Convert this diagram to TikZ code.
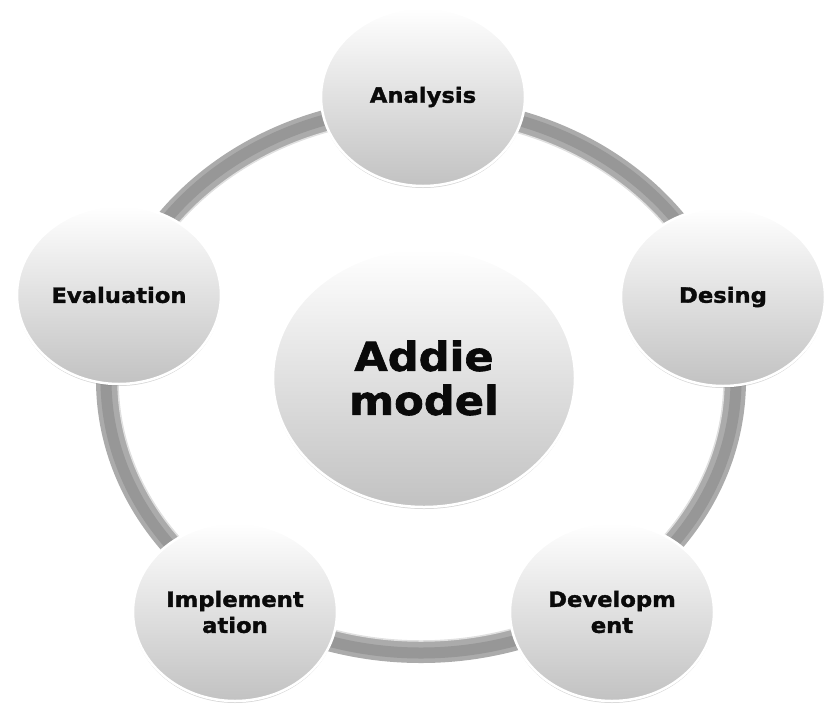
\documentclass[tikz,border=0pt]{standalone}
\usepackage{fontspec}
\setmainfont{DejaVu Sans}[FakeStretch=1.08,BoldFeatures={FakeBold=1.6}]
\usetikzlibrary{shapes.geometric,shadows}
\definecolor{ringgray}{HTML}{ABABAB}
\definecolor{ringdark}{HTML}{979797}
\definecolor{txt}{HTML}{0A0A0A}
\tikzset{
  bubble/.style={ellipse, draw=white, line width=2.5pt,
    top color=white, bottom color=black!24, middle color=white!88!black,
    drop shadow={shadow xshift=0pt, shadow yshift=-2pt, opacity=0.3, fill=black!55},
    text=txt, font=\bfseries\fontsize{21}{26}\selectfont, align=center, inner sep=0pt},
  outer/.style={bubble, minimum width=204pt, minimum height=178pt},
  hub/.style={bubble, minimum width=302pt, minimum height=258pt,
    font=\bfseries\fontsize{40}{44}\selectfont}
}
\begin{document}
\begin{tikzpicture}[x=1pt,y=-1pt]
\useasboundingbox (0,0) rectangle (824,705);
% ring
\coordinate (rc) at (421,380);
\draw[ringgray, line width=22pt] (rc) ellipse [x radius=314, y radius=272];
\draw[ringdark, line width=11pt] (rc) ellipse [x radius=315, y radius=273];
\draw[white!88!black, line width=1.5pt] (rc) ellipse [x radius=303, y radius=261];
% nodes
\node[hub] (hub) at (424,378) {Addie\\model};
\node[outer] (ana) at (423,97) {Analysis};
\node[outer] (des) at (723,297) {Desing};
\node[outer] (dev) at (612,612) {Developm\\ent};
\node[outer] (imp) at (235,612) {Implement\\ation};
\node[outer] (eva) at (119,295) {Evaluation};
\end{tikzpicture}
\end{document}
